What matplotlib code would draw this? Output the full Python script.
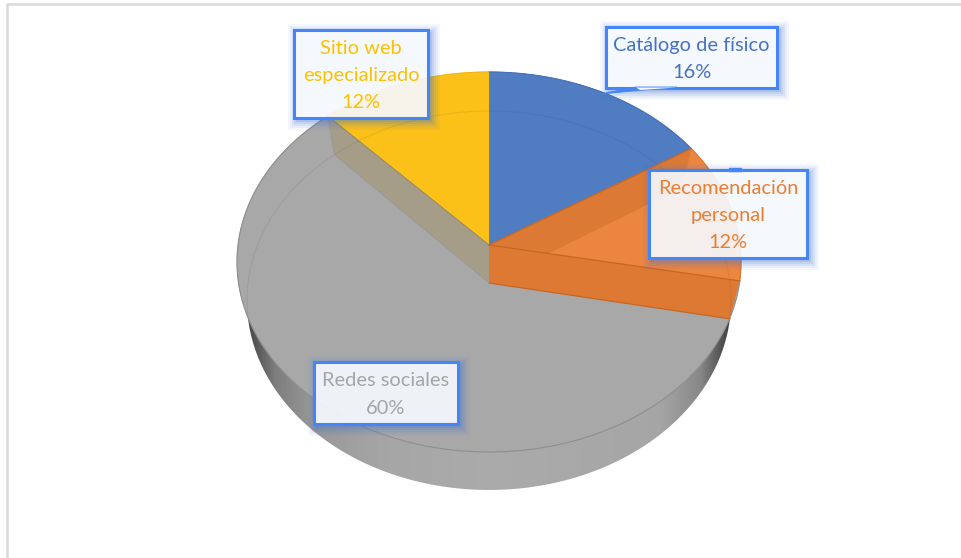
import numpy as np
import matplotlib
matplotlib.use("Agg")
import matplotlib.pyplot as plt
from matplotlib.patches import Polygon, Rectangle, PathPatch
from matplotlib.path import Path

plt.rcParams['font.family'] = ['Lato', 'DejaVu Sans']

# ---- data ----
categories = ["Catálogo de físico", "Recomendación personal", "Redes sociales", "Sitio web especializado"]
values = [16, 12, 60, 12]
label_lines = [["Catálogo de físico"], ["Recomendación", "personal"], ["Redes sociales"], ["Sitio web", "especializado"]]

# ---- style / layout ----
face_colors = ["#507CC2", "#EC853F", "#A8A8A8", "#FCC118"]
text_colors = ["#4472C4", "#ED7D31", "#A5A5A5", "#FFC000"]
edge_colors = ["#4570B8", "#D9782F", "#8E8E8E", "#F0B614"]
boxes = [(606, 27, 777, 88), (649, 170, 807, 258), (314, 362, 458, 424), (294, 30, 428, 118)]
first_line_y = [45, 189, 381, 48]
line_step = 27
BOX_BLUE = "#4585F5"

fig = plt.figure(figsize=(9.61, 5.58), dpi=100)
ax = fig.add_axes([0, 0, 1, 1])
ax.set_xlim(0, 961)
ax.set_ylim(558, 0)
ax.axis("off")


def project(theta, r, a, b, k, c):
    """Perspective projection of a disc; theta is clockwise from the top."""
    u, v = r * np.sin(theta), r * np.cos(theta)
    den = 1 + k * v
    return 489 + c * u / den, (a + b * v) / den


TOP = dict(a=245.0, b=-166.56, k=0.0895, c=251.0)
BOT = dict(a=283.0, b=-161.75, k=0.0923, c=241.0)

fractions = np.cumsum([0] + values) / np.sum(values)
angles = 2 * np.pi * fractions

# chart frame
ax.plot([7, 7, 961], [558, 3.5, 3.5], color="#DADADA", lw=1.8, zorder=1)

# side wall: grey gradient clipped to the lower disc
t = np.linspace(0, 2 * np.pi, 400)
bx, by = project(t, 1, **BOT)
wall = Polygon(np.c_[bx, by], closed=True, transform=ax.transData, fc="none", ec="none")
ax.add_patch(wall)
xs = np.arange(230, 750)
shade = np.interp(xs, [237, 250, 275, 310, 380, 489, 660, 700, 720, 735],
                  [50, 75, 125, 150, 165, 170, 165, 135, 85, 50]) / 255
im = ax.imshow(np.tile(shade, (2, 1)), extent=(230, 750, 500, 90), cmap="gray", vmin=0, vmax=1,
               aspect="auto", zorder=2)
im.set_clip_path(wall)
ax.set_xlim(0, 961)
ax.set_ylim(558, 0)

# top faces
for i in [2, 0, 1, 3]:
    th = np.linspace(angles[i], angles[i + 1], 120)
    x, y = project(th, 1, **TOP)
    ax.add_patch(Polygon(np.r_[[[489, 245]], np.c_[x, y]], closed=True, fc=face_colors[i],
                         ec=face_colors[i], lw=0.5, zorder=3))


# inner walls seen through the transparent top
def band(theta):
    x1, y1 = project(theta, 1, **TOP)
    x2, y2 = project(theta, 1, **BOT)
    return [(489, 245), (x1, y1), (x2, y2), (489, 283)]


ax.add_patch(Polygon(band(angles[3]), closed=True, fc="#A69D88", ec="none", zorder=4))
ax.add_patch(Polygon(band(angles[1]), closed=True, fc="#DB7935", ec="none", zorder=4))
ax.add_patch(Polygon(band(angles[2]), closed=True, fc="#DE7934", ec="none", zorder=4))

# lower rim seen through the top
rim_x, rim_y = project(np.linspace(-np.pi * 0.56, np.pi * 0.56, 300), 1, **BOT)
ax.plot(rim_x, rim_y, color="#303030", lw=0.8, alpha=0.09, zorder=5)

# outlines of the top rim and wedge edges
for i in [2, 0, 1, 3]:
    th = np.linspace(angles[i], angles[i + 1], 120)
    x, y = project(th, 1, **TOP)
    ax.plot(x, y, color=edge_colors[i], lw=0.8, zorder=6)
for i, col in [(1, "#C8661F"), (2, "#C8661F")]:
    x, y = project(angles[i], 1, **TOP)
    ax.plot([489, x], [245, y], color=col, lw=0.9, zorder=6)
    x2, y2 = project(angles[i], 1, **BOT)
    if i == 2:
        ax.plot([489, x2], [283, y2], color=col, lw=0.9, zorder=6)
x, y = project(angles[3], 1, **TOP)
ax.plot([489, x], [245, y], color="#8F8672", lw=0.7, zorder=6)
x2, y2 = project(angles[3], 1, **BOT)
ax.plot([489, x2], [283, y2], color="#979797", lw=0.6, zorder=6)
ax.plot([x, x2], [y, y2], color="#979797", lw=0.6, zorder=6)
ax.plot([489, 489], [72, 245], color="#7C7650", lw=0.5, zorder=6)


# labels
def rect_path(x0, y0, x1, y1, reverse=False):
    pts = [(x0, y0), (x1, y0), (x1, y1), (x0, y1)]
    if reverse:
        pts = pts[::-1]
    return Path(pts + [pts[0]], closed=True)


def glow(x0, y0, x1, y1):
    # soft halo outside the box only, so the box body stays pale
    for g, al in [(9, .06), (7, .07), (5, .10), (3, .13), (1, .18)]:
        outer = rect_path(x0 - g + 2.5, y0 - g + 2.5, x1 + g + 2.5, y1 + g + 2.5)
        inner = rect_path(x0, y0, x1, y1, reverse=True)
        ax.add_patch(PathPatch(Path.make_compound_path(outer, inner), fc="#4478D8", ec="none",
                               alpha=al, zorder=7))


for i, (x0, y0, x1, y1) in enumerate(boxes):
    glow(x0, y0, x1, y1)
    ax.add_patch(Rectangle((x0, y0), x1 - x0, y1 - y0, fc="#F5F8FD", ec="none", alpha=0.92, zorder=8))
    ax.add_patch(Rectangle((x0, y0), x1 - x0, y1 - y0, fc="none", ec=BOX_BLUE, lw=2.2, zorder=9))
    lines = label_lines[i] + [f"{values[i]}%"]
    for j, s in enumerate(lines):
        ax.text((x0 + x1) / 2, first_line_y[i] + j * line_step, s, color=text_colors[i], fontsize=14.4,
                ha="center", va="center", zorder=10)

# callout leader and tab
ax.add_patch(Polygon([(600, 94), (636, 87), (677, 87)], closed=True, fc=BOX_BLUE, ec=BOX_BLUE, lw=0.6, zorder=9))
ax.add_patch(Polygon([(636, 87.5), (677, 87.5), (640, 90)], closed=True, fc="#F5F8FD", ec="none", zorder=9))
ax.plot([729, 742], [170, 170], color=BOX_BLUE, lw=3.2, solid_capstyle="butt", zorder=9)

fig.savefig("out.png", dpi=100, facecolor="white")
